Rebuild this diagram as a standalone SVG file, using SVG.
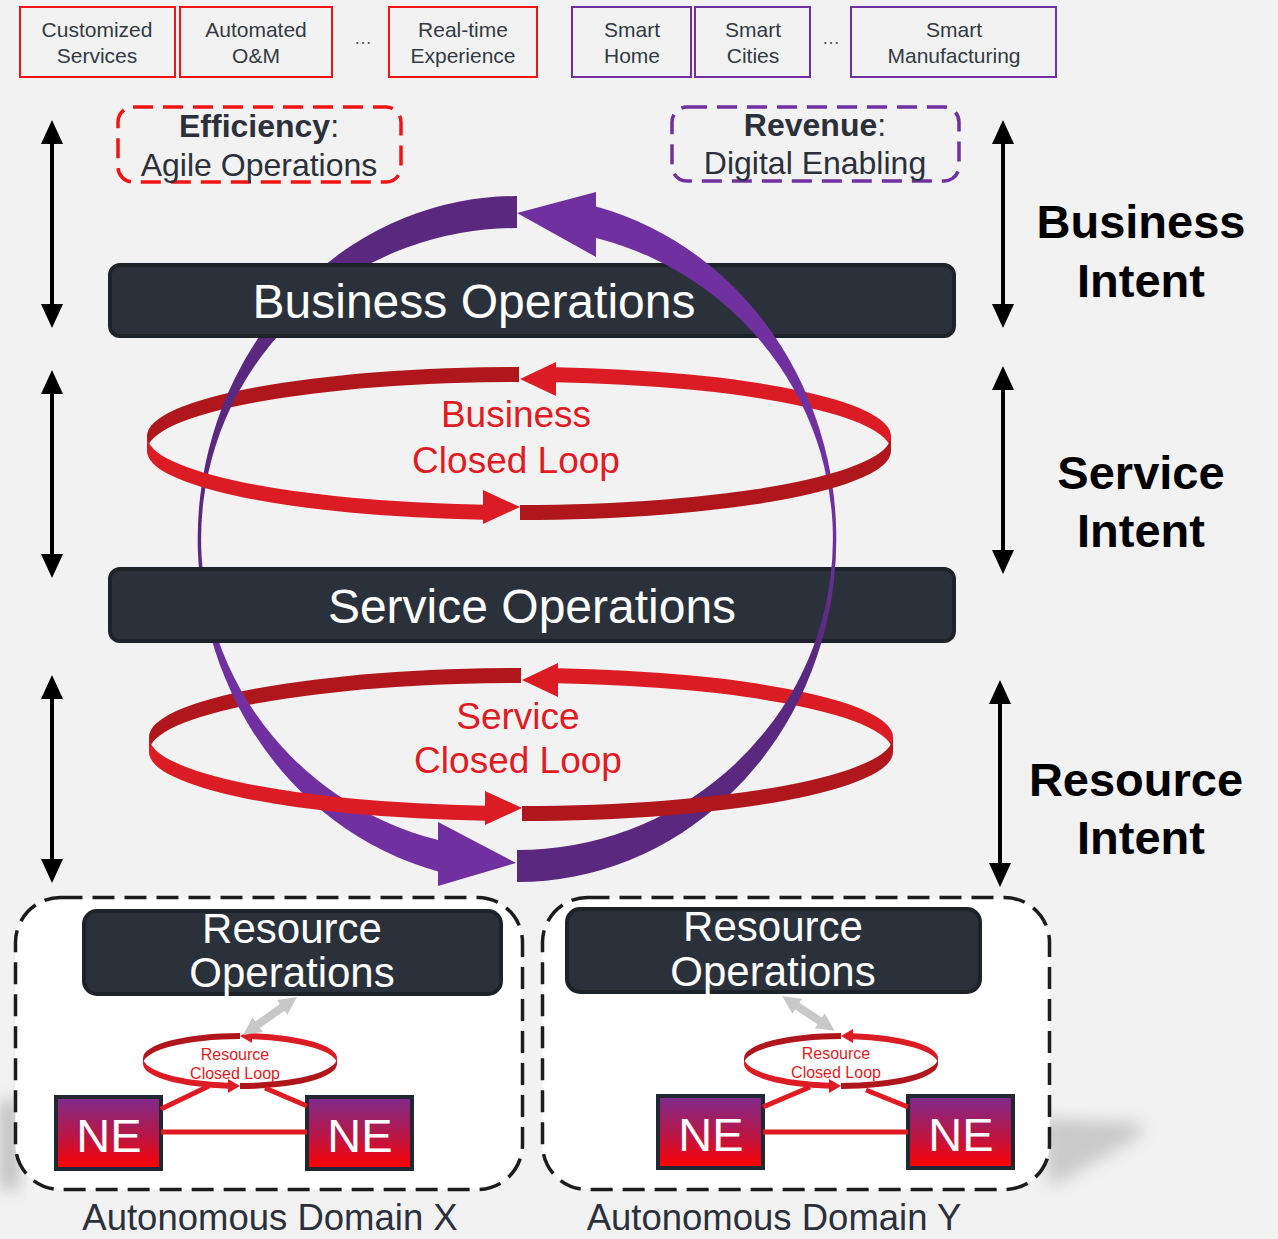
<svg xmlns="http://www.w3.org/2000/svg" xmlns:xlink="http://www.w3.org/1999/xlink" width="1278" height="1239" viewBox="0 0 1278 1239">
<style>
text{font-family:"Liberation Sans",Arial,sans-serif}
.tb{font-size:21px;fill:#333a44;text-anchor:middle}
.rbox{fill:none;stroke:#f01414;stroke-width:2}
.pbox{fill:none;stroke:#7030a0;stroke-width:2}
.ops{fill:#2b313b;stroke:#1e2229;stroke-width:4}
.opst{fill:#fff;text-anchor:middle}
.intent{font-size:47px;font-weight:bold;fill:#000;text-anchor:middle}
.loopt{fill:#e01b24;text-anchor:middle}
.dk{fill:#b0171c}
.lt{fill:#dc1c24}
.dom{fill:#fff;stroke:#1c1c1c;stroke-width:3.5;stroke-dasharray:22 10}
.ne{fill:url(#neg);stroke:#222831;stroke-width:4}
.net{font-size:47px;fill:#fff;text-anchor:middle}
.blk{stroke:#000;stroke-width:4;marker-start:url(#barrow);marker-end:url(#barrow)}
.gry{stroke:#c8c8c8;stroke-width:8;marker-start:url(#garrow);marker-end:url(#garrow)}
.lnk{stroke:#e01b24;stroke-width:5;fill:none}
.dlab{font-size:36.5px;fill:#2b303a;text-anchor:middle}
</style>
<defs>
<marker id="barrow" markerUnits="userSpaceOnUse" viewBox="0 0 24 22" refX="4" refY="11" markerWidth="24" markerHeight="22" orient="auto-start-reverse"><path d="M0,0 L24,11 L0,22 Z" fill="#000"/></marker>
<marker id="garrow" markerUnits="userSpaceOnUse" viewBox="0 0 18 18" refX="4" refY="9" markerWidth="18" markerHeight="18" orient="auto-start-reverse"><path d="M0,0 L18,9 L0,18 Z" fill="#c8c8c8"/></marker>
<linearGradient id="pgL" gradientUnits="userSpaceOnUse" x1="0" y1="196" x2="0" y2="882"><stop offset="0" stop-color="#5a287e"/><stop offset="0.5" stop-color="#5a287e"/><stop offset="0.66" stop-color="#7030a0"/><stop offset="1" stop-color="#7030a0"/></linearGradient>
<linearGradient id="pgR" gradientUnits="userSpaceOnUse" x1="0" y1="196" x2="0" y2="882"><stop offset="0" stop-color="#7030a0"/><stop offset="0.5" stop-color="#7030a0"/><stop offset="0.66" stop-color="#5a287e"/><stop offset="1" stop-color="#5a287e"/></linearGradient>
<linearGradient id="neg" x1="0" y1="0" x2="0" y2="1"><stop offset="0" stop-color="#7d2a8e"/><stop offset="0.5" stop-color="#b4184c"/><stop offset="1" stop-color="#ff0000"/></linearGradient>
<filter id="blur" x="-50%" y="-50%" width="200%" height="200%"><feGaussianBlur stdDeviation="8"/></filter>
<g id="bigBack">
<path class="dk" d="M519,367 A372,69 0 0 0 147,436 L147,451 A372,69 0 0 1 519,382 Z"/>
<path class="lt" d="M891,436 A372,69 0 0 0 556,367.3 L556,382.3 A372,69 0 0 1 891,451 Z"/>
<path class="lt" d="M556,362 L520,379 L556,396 Z"/>
</g>
<g id="bigFront">
<path class="lt" d="M147,436 A372,69 0 0 0 483,504.7 L483,519.7 A372,69 0 0 1 147,451 Z"/>
<path class="lt" d="M483,490 L520,507 L483,524 Z"/>
<path class="dk" d="M520,505 A372,69 0 0 0 891,436 L891,451 A372,69 0 0 1 520,520 Z"/>
</g>
<g id="smallLoop">
<path class="dk" d="M240,1033 A97,25 0 0 0 143,1058 L143,1064 A97,25 0 0 1 240,1039 Z"/>
<path class="lt" d="M337,1058 A97,25 0 0 0 252,1033.2 L252,1039.2 A97,25 0 0 1 337,1064 Z"/>
<path class="lt" d="M252,1029 L240,1036 L252,1043 Z"/>
<path class="lt" d="M143,1058 A97,25 0 0 0 228,1082.8 L228,1088.8 A97,25 0 0 1 143,1064 Z"/>
<path class="lt" d="M228,1079 L240,1086 L228,1093 Z"/>
<path class="dk" d="M240,1083 A97,25 0 0 0 337,1058 L337,1064 A97,25 0 0 1 240,1089 Z"/>
</g>
</defs>
<rect x="0" y="0" width="1278" height="1239" fill="#f2f2f2"/>

<!-- top service boxes -->
<g id="box-customized"><rect class="rbox" x="20" y="7" width="155" height="70"/><text class="tb" x="97" y="37">Customized</text><text class="tb" x="97" y="63">Services</text></g>
<g id="box-automated"><rect class="rbox" x="180" y="7" width="152" height="70"/><text class="tb" x="256" y="37">Automated</text><text class="tb" x="256" y="63">O&amp;M</text></g>
<text class="tb" x="363" y="44" style="font-size:18px;fill:#555">…</text>
<g id="box-realtime"><rect class="rbox" x="389" y="7" width="148" height="70"/><text class="tb" x="463" y="37">Real-time</text><text class="tb" x="463" y="63">Experience</text></g>
<g id="box-home"><rect class="pbox" x="572" y="7" width="119" height="70"/><text class="tb" x="632" y="37">Smart</text><text class="tb" x="632" y="63">Home</text></g>
<g id="box-cities"><rect class="pbox" x="695" y="7" width="115" height="70"/><text class="tb" x="753" y="37">Smart</text><text class="tb" x="753" y="63">Cities</text></g>
<text class="tb" x="831" y="44" style="font-size:18px;fill:#555">…</text>
<g id="box-manufacturing"><rect class="pbox" x="851" y="7" width="205" height="70"/><text class="tb" x="954" y="37">Smart</text><text class="tb" x="954" y="63">Manufacturing</text></g>

<!-- goal boxes -->
<g id="efficiency"><rect x="118" y="107" width="283" height="75" rx="15" fill="none" stroke="#f01414" stroke-width="3.5" stroke-dasharray="20 10"/>
<text x="259" y="137" font-size="32" fill="#2b303a" text-anchor="middle"><tspan font-weight="bold">Efficiency</tspan>:</text>
<text x="259" y="176" font-size="32" fill="#2b303a" text-anchor="middle">Agile Operations</text></g>
<g id="revenue"><rect x="672" y="107" width="287" height="74" rx="15" fill="none" stroke="#7030a0" stroke-width="3.5" stroke-dasharray="20 10"/>
<text x="815" y="136" font-size="32" fill="#2b303a" text-anchor="middle"><tspan font-weight="bold">Revenue</tspan>:</text>
<text x="815" y="174" font-size="32" fill="#2b303a" text-anchor="middle">Digital Enabling</text></g>

<!-- intent labels -->
<g id="label-business-intent"><text class="intent" x="1141" y="238">Business</text><text class="intent" x="1141" y="297">Intent</text></g>
<g id="label-service-intent"><text class="intent" x="1141" y="489">Service</text><text class="intent" x="1141" y="547">Intent</text></g>
<g id="label-resource-intent"><text class="intent" x="1136" y="796">Resource</text><text class="intent" x="1141" y="854">Intent</text></g>

<!-- red loops: back halves -->
<g id="business-loop-back"><use href="#bigBack"/></g>
<g id="service-loop-back"><use href="#bigBack" transform="translate(2,301)"/></g>

<!-- purple cycle, left arc (behind boxes) -->
<g id="cycle-left">
<path fill="url(#pgL)" d="M517,196 A319,343 0 0 0 438,871.4 L438,840.1 A316,311 0 0 1 517,228 Z"/>
<path fill="#7030a0" d="M438,822 L516,863 L438,886 Z"/>
</g>

<g id="business-ops"><rect class="ops" x="110" y="265" width="844" height="71" rx="10"/><text class="opst" x="474" y="318" font-size="48">Business Operations</text></g>
<g id="service-ops"><rect class="ops" x="110" y="569" width="844" height="72" rx="10"/><text class="opst" x="532" y="623" font-size="48">Service Operations</text></g>

<!-- purple cycle, right arc (in front of boxes) -->
<g id="cycle-right">
<path fill="url(#pgR)" d="M517,882 A319,343 0 0 0 596,206.6 L596,237.9 A316,311 0 0 1 517,850 Z"/>
<path fill="#7030a0" d="M596,192 L517,213 L596,257 Z"/>
</g>

<!-- red loops: front halves and labels -->
<g id="business-loop"><use href="#bigFront"/>
<text class="loopt" x="516" y="427" font-size="37">Business</text><text class="loopt" x="516" y="473" font-size="37">Closed Loop</text></g>
<g id="service-loop"><use href="#bigFront" transform="translate(2,301)"/>
<text class="loopt" x="518" y="729" font-size="37">Service</text><text class="loopt" x="518" y="773" font-size="37">Closed Loop</text></g>

<!-- domain X -->
<g id="domain-x">
<path d="M0,1102 L18,1098 L18,1192 L0,1186 Z" fill="#999" opacity="0.6" filter="url(#blur)"/>
<rect class="dom" x="15.5" y="897.5" width="507" height="292" rx="45"/>
<g id="resource-ops-x"><rect class="ops" x="84" y="911" width="417" height="83" rx="13"/><text class="opst" x="292" y="943" font-size="42">Resource</text><text class="opst" x="292" y="987" font-size="42">Operations</text></g>
<g id="resource-loop-x"><use href="#smallLoop"/><text class="loopt" x="235" y="1060" font-size="16">Resource</text><text class="loopt" x="235" y="1079" font-size="16">Closed Loop</text></g>
<g id="ne-x1"><rect class="ne" x="56" y="1097" width="105" height="72"/><text class="net" x="109" y="1152">NE</text></g>
<g id="ne-x2"><rect class="ne" x="307" y="1097" width="105" height="72"/><text class="net" x="360" y="1152">NE</text></g>
<text class="dlab" x="270" y="1230">Autonomous Domain X</text>
</g>

<!-- domain Y -->
<g id="domain-y">
<path d="M1040,1118 L1138,1122 L1144,1134 L1050,1188 Z" fill="#aaa" opacity="0.55" filter="url(#blur)"/>
<rect class="dom" x="542.5" y="897.5" width="507" height="292" rx="45"/>
<g id="resource-ops-y"><rect class="ops" x="567" y="909" width="413" height="83" rx="13"/><text class="opst" x="773" y="941" font-size="42">Resource</text><text class="opst" x="773" y="986" font-size="42">Operations</text></g>
<g id="resource-loop-y"><use href="#smallLoop" transform="translate(601,0)"/><text class="loopt" x="836" y="1059" font-size="16">Resource</text><text class="loopt" x="836" y="1078" font-size="16">Closed Loop</text></g>
<g id="ne-y1"><rect class="ne" x="658" y="1096" width="105" height="72"/><text class="net" x="711" y="1151">NE</text></g>
<g id="ne-y2"><rect class="ne" x="908" y="1096" width="105" height="72"/><text class="net" x="961" y="1151">NE</text></g>
<text class="dlab" x="774" y="1230">Autonomous Domain Y</text>
</g>

<!-- connectors -->
<g id="connectors">
<line class="blk" x1="52" y1="140" x2="52" y2="308"/>
<line class="blk" x1="52" y1="390" x2="52" y2="558"/>
<line class="blk" x1="52" y1="695" x2="52" y2="863"/>
<line class="blk" x1="1003" y1="140" x2="1003" y2="308"/>
<line class="blk" x1="1003" y1="386" x2="1003" y2="554"/>
<line class="blk" x1="1000" y1="700" x2="1000" y2="867"/>
<line class="gry" x1="285.5" y1="1005.1" x2="254.5" y2="1026.9"/>
<line class="gry" x1="794" y1="1004" x2="823" y2="1023"/>
<path class="lnk" d="M161,1109 L209,1086"/>
<path class="lnk" d="M307,1106 L265,1088"/>
<path class="lnk" d="M161,1132 L307,1132"/>
<path class="lnk" d="M763,1107 L810,1087"/>
<path class="lnk" d="M908,1107 L866,1090"/>
<path class="lnk" d="M763,1132 L908,1132"/>
</g>
</svg>
